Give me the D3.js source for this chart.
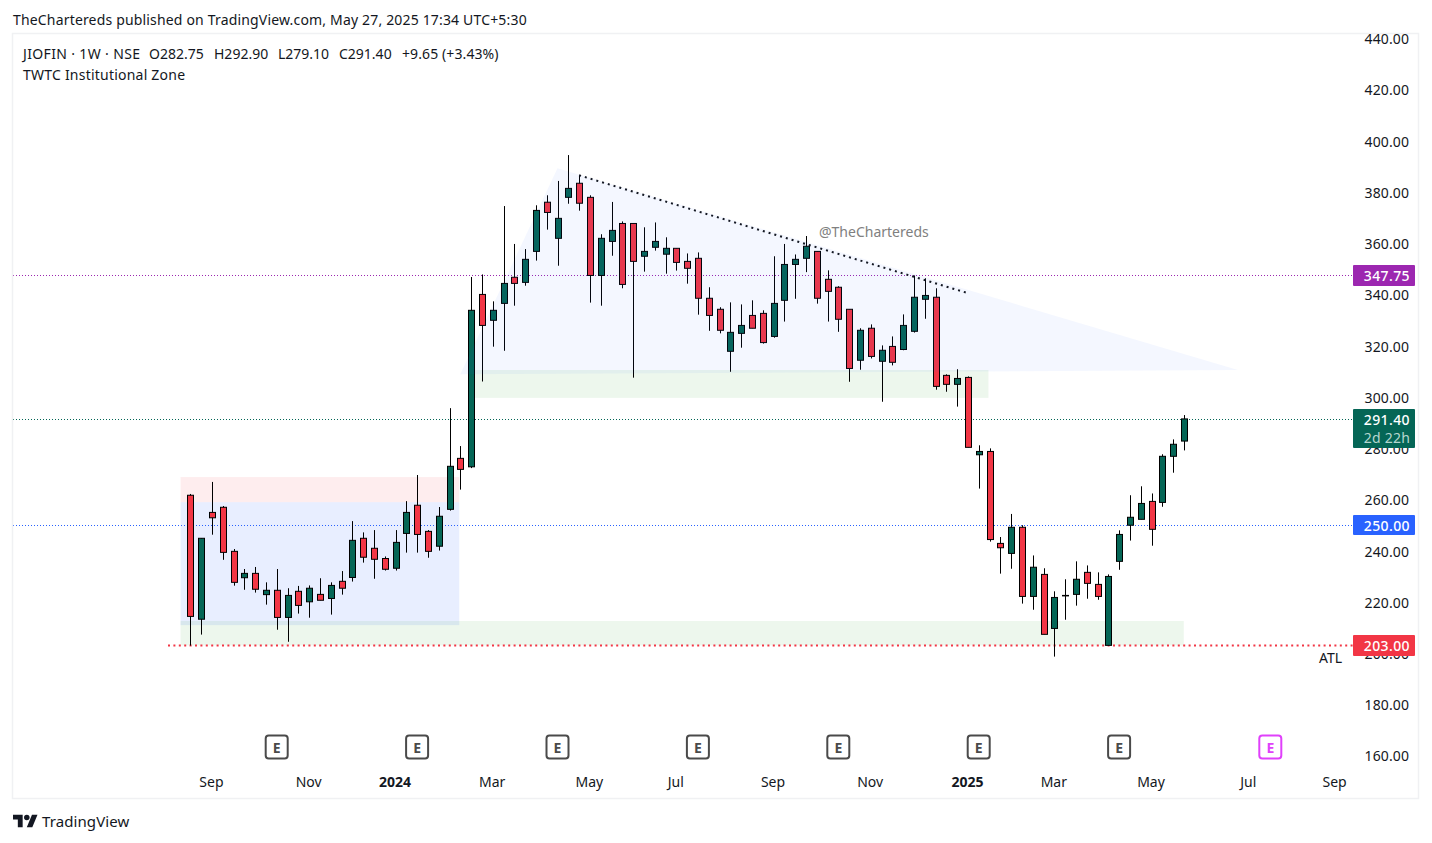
<!DOCTYPE html>
<html><head><meta charset="utf-8">
<script src="https://cdn.jsdelivr.net/npm/d3@7"></script>
<style>html,body{margin:0;padding:0;background:#fff}svg{display:block}text{font-family:"Noto Sans",sans-serif}</style>
</head><body><svg id="c" width="1432" height="843"></svg>
<script>
const opens=[261.6,213.2,254.9,256.9,239.7,229.4,231.1,222.8,224.5,213.9,224.1,220.0,222.9,221.3,228.0,229.5,244.8,240.9,236.9,233.1,246.7,257.7,247.5,241.7,256.1,276.0,272.7,340.0,329.9,336.5,346.7,344.7,356.8,376.0,361.9,377.9,383.4,377.9,347.4,360.7,367.7,367.7,354.9,358.4,355.7,358.0,352.9,354.1,338.5,334.2,317.8,324.8,331.8,332.6,323.6,337.7,351.7,354.1,356.8,345.9,342.8,334.2,314.3,326.8,313.9,319.7,318.5,325.6,338.1,338.9,308.4,304.9,307.6,277.4,278.7,242.8,238.9,249.1,222.1,230.7,209.6,222.3,222.9,231.5,226.8,203.0,235.8,249.9,252.2,259.2,258.8,276.8,282.75];
const highs=[262.1,244.8,266.8,257.4,240.6,232.8,233.6,227.6,232.8,225.3,226.2,226.4,229.2,227.6,232.0,251.5,247.1,248.0,237.7,248.0,259.3,269.5,248.0,257.0,295.6,280.8,346.8,347.8,337.3,374.5,359.7,357.7,374.8,378.7,384.3,394.4,386.4,378.7,363.5,376.1,368.5,367.7,366.2,368.1,362.3,358.0,356.0,356.4,342.8,335.0,336.9,336.1,337.7,333.8,354.9,359.7,355.6,362.8,356.8,349.4,343.2,334.2,326.8,328.3,320.1,323.6,332.2,347.4,346.3,342.4,308.8,310.8,308.0,281.1,279.9,245.3,254.3,249.9,238.1,233.1,224.1,228.8,235.8,234.2,231.5,230.7,247.9,261.6,265.1,262.3,277.6,283.4,292.9];
const lows=[202.9,207.2,246.2,236.4,226.3,224.7,223.6,218.9,209.1,204.4,215.4,213.8,220.6,215.0,222.8,227.9,235.3,229.0,232.2,232.2,239.2,239.2,237.2,240.0,255.6,263.8,272.2,306.0,319.6,318.0,335.6,343.4,353.2,365.3,351.2,375.4,372.7,336.8,335.6,355.1,342.4,307.5,348.9,357.1,348.1,349.3,344.2,332.1,325.8,324.8,309.8,319.2,326.8,320.8,323.1,329.4,338.3,348.7,336.4,329.4,325.4,305.9,310.6,315.0,298.1,312.3,318.2,325.1,330.5,302.8,302.0,296.2,280.3,264.2,243.5,231.0,232.9,219.3,216.9,207.3,198.6,213.0,218.5,221.2,220.8,203.0,232.5,243.9,252.2,241.9,257.1,270.4,279.1];
const closes=[214.3,244.8,252.8,239.3,227.6,231.1,224.9,224.5,213.9,222.5,218.6,225.3,220.6,226.4,225.3,244.0,237.4,236.6,232.7,243.2,254.9,246.3,239.7,253.4,272.9,271.7,333.8,327.9,333.8,344.3,344.3,353.7,372.8,372.0,369.7,381.4,375.6,347.4,361.9,365.0,343.9,352.9,356.8,360.7,358.0,352.5,350.2,338.5,331.8,326.0,325.2,327.9,326.8,321.2,336.5,351.7,353.7,358.8,338.5,341.2,330.3,311.1,326.0,315.8,318.2,313.5,327.9,338.9,339.6,304.1,304.9,307.2,280.3,278.7,244.3,241.1,249.1,222.1,233.5,207.3,221.7,222.5,228.8,227.2,222.1,229.9,246.3,253.0,258.4,248.3,276.8,281.5,291.4];

const priceTicks=[440,420,400,380,360,340,320,300,280,260,240,220,200,180,160];
const timeTickIdx=[2,11,19,28,37,45,54,63,72,80,89,98,106];
const timeTickLabels=["Sep","Nov","2024","Mar","May","Jul","Sep","Nov","2025","Mar","May","Jul","Sep"];
const earningsIdx=[8,21,34,47,60,73,86];
const futureEarningsIdx=[100];

const priceLevels=[347.75,291.40,250.00,203.00];
const priceLevelColors=["#9c27b0","#056656","#2962ff","#f23645"];

const redZone=[-0.9,24.9,268.7,258.9];
const blueZone=[-0.9,24.9,258.9,210.9];
const lowGreenZone=[-0.9,91.99,212.5,203.0];
const midGreenZone=[26.2,73.9,310.5,299.6];
const triangleIdx=[25,34,97];
const trianglePrices=[308.8,389.3,310.5];
const trendIdx=[36,72];
const trendPrices=[386.5,340.5];

const svg=d3.select("#c");
const x=d3.scaleLinear().domain([0,92]).range([190.3,1183.9]);
const y=d3.scaleLinear().domain([160,420]).range([755.5,89.5]);
const plotL=13,plotR=1353,axisR=1419,plotT=34,plotB=799;
const UP="#056656",DOWN="#f23645";

svg.append("defs").append("clipPath").attr("id","frameClip").append("rect")
  .attr("x",plotL).attr("y",plotT).attr("width",axisR-plotL).attr("height",plotB-plotT);

function zone(z,fill){svg.append("rect").attr("x",x(z[0])).attr("width",x(z[1])-x(z[0]))
  .attr("y",y(z[2])).attr("height",y(z[3])-y(z[2])).attr("fill",fill);}
zone(redZone,"rgba(242,54,69,0.09)");
zone(blueZone,"rgba(41,98,255,0.105)");
zone(lowGreenZone,"rgba(76,175,80,0.10)");
zone(midGreenZone,"rgba(76,175,80,0.10)");

// price lines
priceLevels.forEach((p,i)=>{
  const red=p===203;
  svg.append("line").attr("x1",red?168:plotL).attr("x2",plotR).attr("y1",Math.round(y(p))+.5).attr("y2",Math.round(y(p))+.5)
   .attr("stroke",priceLevelColors[i]).attr("stroke-width",red?2:1).attr("stroke-dasharray",red?"2,3.4":"1,2");
});

// candles
const idx=d3.range(opens.length);
const cg=svg.append("g");
cg.selectAll("line").data(idx).join("line")
  .attr("x1",i=>Math.round(x(i))+.5).attr("x2",i=>Math.round(x(i))+.5)
  .attr("y1",i=>y(highs[i])).attr("y2",i=>y(lows[i])).attr("stroke","#000").attr("stroke-width",1);
cg.selectAll("rect").data(idx).join("rect")
  .attr("x",i=>Math.round(x(i))-2.5).attr("width",6)
  .attr("y",i=>y(Math.max(opens[i],closes[i])))
  .attr("height",i=>Math.max(0.5,Math.abs(y(opens[i])-y(closes[i]))))
  .attr("fill",i=>closes[i]>=opens[i]?UP:DOWN).attr("stroke","#000").attr("stroke-width",1);

// triangle (over candles)
svg.append("path").attr("d",d3.line().x(d=>x(d[0])).y(d=>y(d[1]))(triangleIdx.map((v,i)=>[v,trianglePrices[i]]))+"Z")
  .attr("fill","rgba(41,98,255,0.05)");

// trend line
svg.append("line").attr("x1",x(trendIdx[0])).attr("x2",x(trendIdx[1])).attr("y1",y(trendPrices[0])).attr("y2",y(trendPrices[1]))
  .attr("stroke","#131722").attr("stroke-width",2).attr("stroke-dasharray","2,4");

// frame
svg.append("rect").attr("x",plotL-.5).attr("y",plotT-.5).attr("width",axisR-plotL).attr("height",plotB-plotT)
  .attr("fill","none").attr("stroke","#f0f1f3").attr("stroke-width",1.5);

// price axis
const yAx=svg.append("g").attr("clip-path","url(#frameClip)").append("g").attr("transform","translate(1409,1)")
  .call(d3.axisRight(y).tickValues(priceTicks).tickSize(0).tickPadding(0).tickFormat(d3.format(".2f")));
yAx.select(".domain").remove();
yAx.selectAll("text").attr("text-anchor","end").attr("x",0).attr("fill","#131722").attr("font-size",14).attr("letter-spacing",0.1).attr("font-family",'"Noto Sans",sans-serif');

// time axis
const xAx=svg.append("g").attr("transform","translate(-1,777)")
  .call(d3.axisBottom(x).tickValues(timeTickIdx).tickSize(0).tickPadding(0).tickFormat((d,i)=>timeTickLabels[i]));
xAx.select(".domain").remove();
xAx.selectAll("text").attr("fill","#131722").attr("font-size",14).attr("font-family",'"Noto Sans",sans-serif')
  .attr("font-weight",(d,i)=>/^20/.test(timeTickLabels[i])?700:400);

// earnings markers
function marker(i,col){
  const g=svg.append("g").attr("transform",`translate(${x(i)},747)`);
  g.append("rect").attr("x",-11).attr("y",-11.5).attr("width",22).attr("height",23).attr("rx",3)
    .attr("fill","#fff").attr("stroke",col).attr("stroke-width",2);
  g.append("text").attr("text-anchor","middle").attr("y",5.5).attr("font-size",14).attr("font-weight",700).attr("fill",col).text("E");
}
earningsIdx.forEach(i=>marker(i,"#4a4a4a"));
futureEarningsIdx.forEach(i=>marker(i,"#e040fb"));

// price labels
function tag(p,col,h,txt,txt2){
  const yc=y(p);
  svg.append("rect").attr("x",1353).attr("y",Math.round(yc)-10).attr("width",62).attr("height",h).attr("rx",1).attr("fill",col);
  svg.append("text").attr("x",1410).attr("y",Math.round(yc)+5.5).attr("text-anchor","end").attr("font-size",14).attr("font-weight",500).attr("letter-spacing",0.4).attr("fill","#fff").text(txt);
  if(txt2) svg.append("text").attr("x",1410).attr("y",Math.round(yc)+24).attr("text-anchor","end").attr("font-size",14).attr("letter-spacing",0.2).attr("fill","#b5d6cf").text(txt2);
}
tag(347.75,"#9c27b0",21,"347.75");
tag(291.40,"#056656",39,"291.40","2d 22h");
tag(250,"#2962ff",20,"250.00");
tag(203,"#f23645",21,"203.00");

// texts
const T=(s,xx,yy,fs,col,ex={})=>{const t=svg.append("text").attr("x",xx).attr("y",yy).attr("font-size",fs).attr("fill",col).text(s);Object.entries(ex).forEach(([k,v])=>t.attr(k,v));return t;};
T("TheChartereds published on TradingView.com, May 27, 2025 17:34 UTC+5:30",13,25,14,"#131722",{"letter-spacing":0.17});
T("JIOFIN · 1W · NSE",23,59,14,"#131722",{"letter-spacing":0.35});
T("O282.75",149,59,14,"#131722");
T("H292.90",214,59,14,"#131722");
T("L279.10",278,59,14,"#131722");
T("C291.40",339,59,14,"#131722");
T("+9.65 (+3.43%)",402,59,14,"#131722",{"letter-spacing":0.1});
T("TWTC Institutional Zone",23,80,14,"#131722",{"letter-spacing":0.22});
T("@TheChartereds",819,237,14,"#808080");
T("ATL",1319,663,14,"#131722");
T("TradingView",42,827,15,"#131722",{"letter-spacing":0.1});
svg.append("g").attr("transform","translate(13,812) scale(0.69)").attr("fill","#131722").html('<path d="M14 22H7V11H0V4h14v18zM28 22h-8l7.5-18h8L28 22z"/><circle cx="20" cy="8" r="4"/>');
</script></body></html>
